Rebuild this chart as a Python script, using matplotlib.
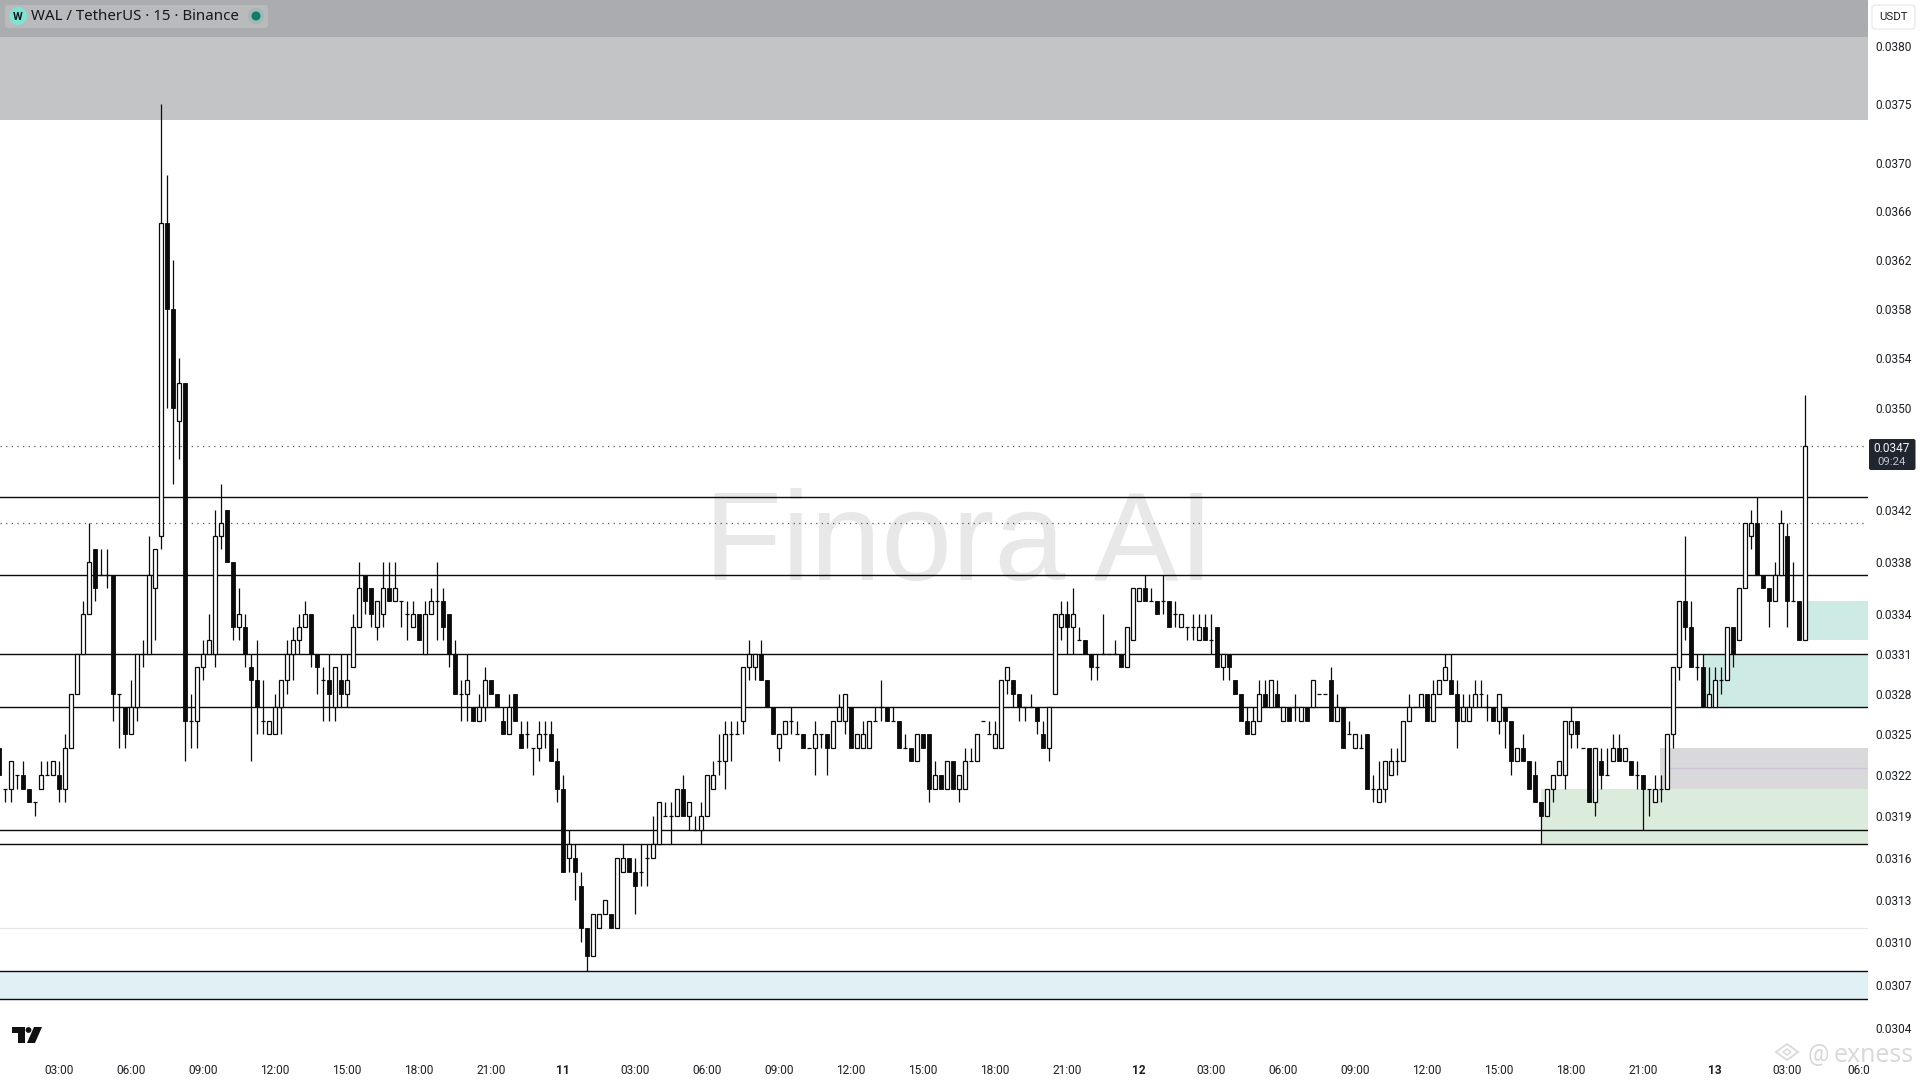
import numpy as np
import matplotlib
matplotlib.use("Agg")
import matplotlib.pyplot as plt
from matplotlib.patches import Circle, FancyBboxPatch, Polygon

plt.rcParams['font.family'] = ['Roboto', 'DejaVu Sans']

# candles in price ticks (1 tick = 0.0001 USDT), ten per row
opens = [
    324, 321, 321, 322, 322, 321, 320, 321, 322, 322,
    322, 321, 324, 328, 331, 334, 339, 337, 337, 337,
    328, 327, 325, 327, 331, 331, 336, 340, 365, 358,
    349, 352, 326, 326, 330, 331, 331, 340, 342, 338,
    333, 333, 330, 329, 326, 325, 325, 327, 329, 331,
    332, 333, 334, 331, 329, 329, 327, 329, 328, 330,
    333, 337, 336, 333, 334, 336, 335, 335, 334, 333,
    334, 331, 334, 335, 335, 334, 331, 328, 328, 327,
    326, 327, 329, 328, 326, 325, 328, 325, 325, 324,
    324, 325, 325, 323, 321, 316, 316, 314, 311, 309,
    311, 312, 312, 311, 315, 316, 315, 315, 316, 316,
    317, 319, 319, 319, 321, 319, 318, 318, 319, 321,
    323, 323, 325, 325, 326, 330, 330, 331, 329, 327,
    324, 325, 326, 325, 325, 324, 324, 325, 325, 324,
    326, 326, 327, 324, 324, 324, 326, 327, 327, 326,
    326, 324, 324, 323, 325, 325, 321, 322, 321, 323,
    321, 321, 323, 323, 326, 325, 324, 324, 329, 329,
    328, 327, 327, 327, 325, 324, 328, 333, 334, 333,
    332, 332, 331, 330, 331, 331, 331, 331, 330, 332,
    335, 336, 335, 335, 335, 335, 334, 333, 333, 333,
    332, 333, 332, 333, 330, 331, 329, 328, 326, 325,
    326, 328, 327, 328, 326, 327, 327, 326, 327, 327,
    328, 328, 329, 326, 327, 325, 324, 324, 325, 321,
    320, 321, 322, 323, 323, 326, 327, 327, 328, 326,
    328, 329, 329, 328, 326, 326, 327, 328, 327, 327,
    326, 327, 326, 323, 324, 323, 322, 320, 319, 321,
    322, 322, 325, 326, 324, 324, 320, 323, 322, 323,
    324, 323, 323, 322, 322, 321, 320, 321, 321, 325,
    330, 335, 333, 330, 330, 327, 327, 329, 329, 333,
    332, 336, 340, 341, 337, 336, 335, 337, 340, 335,
    335, 332,
]
closes = [
    322, 321, 323, 322, 321, 320, 320, 322, 322, 323,
    321, 324, 328, 331, 334, 338, 336, 337, 337, 328,
    328, 325, 327, 331, 331, 337, 339, 365, 358, 350,
    352, 326, 326, 330, 331, 332, 340, 341, 338, 333,
    334, 331, 329, 327, 326, 326, 327, 329, 331, 332,
    333, 334, 331, 330, 329, 328, 330, 328, 329, 333,
    336, 335, 334, 335, 336, 335, 336, 335, 334, 334,
    332, 334, 335, 335, 333, 331, 328, 328, 329, 326,
    327, 329, 328, 327, 325, 327, 326, 324, 325, 324,
    325, 325, 323, 321, 315, 317, 315, 311, 309, 312,
    312, 313, 311, 316, 316, 315, 314, 315, 316, 317,
    320, 319, 319, 321, 319, 320, 318, 319, 322, 322,
    323, 325, 325, 325, 330, 331, 331, 329, 327, 325,
    325, 326, 326, 325, 324, 324, 325, 325, 324, 326,
    327, 328, 324, 325, 325, 326, 326, 327, 326, 326,
    324, 324, 323, 325, 324, 321, 322, 321, 323, 321,
    322, 323, 323, 325, 326, 325, 325, 329, 330, 328,
    327, 327, 327, 326, 324, 327, 334, 334, 333, 334,
    332, 331, 330, 330, 331, 331, 331, 330, 333, 336,
    336, 335, 335, 334, 335, 333, 334, 334, 333, 333,
    333, 332, 332, 330, 331, 330, 328, 326, 325, 326,
    328, 327, 329, 327, 327, 326, 327, 327, 326, 329,
    328, 328, 326, 327, 324, 325, 325, 324, 321, 321,
    321, 323, 323, 323, 326, 327, 327, 328, 326, 328,
    329, 330, 328, 326, 327, 327, 328, 328, 327, 326,
    328, 326, 323, 324, 323, 321, 320, 319, 321, 322,
    323, 326, 326, 325, 324, 320, 324, 322, 322, 324,
    323, 324, 322, 322, 321, 321, 321, 321, 325, 330,
    335, 333, 330, 330, 327, 328, 329, 329, 333, 331,
    336, 341, 341, 337, 336, 335, 337, 341, 335, 335,
    332, 347,
]
highs = [
    324, 321, 323, 322, 323, 321, 320, 323, 323, 323,
    323, 325, 328, 331, 335, 341, 339, 339, 339, 337,
    328, 327, 329, 331, 332, 340, 339, 375, 369, 362,
    354, 352, 328, 330, 332, 334, 342, 344, 342, 338,
    336, 334, 331, 332, 329, 326, 328, 329, 332, 333,
    334, 335, 334, 331, 330, 331, 330, 331, 331, 334,
    338, 337, 336, 335, 338, 338, 338, 335, 335, 335,
    334, 335, 336, 338, 336, 334, 332, 329, 331, 327,
    328, 330, 329, 328, 327, 328, 328, 326, 326, 324,
    326, 326, 326, 324, 322, 318, 317, 315, 311, 312,
    312, 313, 312, 316, 317, 316, 316, 317, 317, 319,
    320, 320, 320, 321, 322, 320, 319, 320, 322, 323,
    325, 326, 326, 326, 330, 332, 331, 332, 329, 327,
    325, 326, 327, 326, 325, 324, 326, 325, 325, 326,
    328, 328, 327, 325, 326, 326, 327, 329, 327, 327,
    326, 325, 324, 325, 325, 325, 323, 322, 323, 323,
    322, 324, 324, 325, 326, 326, 326, 329, 330, 329,
    328, 327, 328, 327, 326, 327, 334, 335, 335, 336,
    333, 332, 331, 331, 334, 331, 332, 331, 333, 336,
    336, 337, 336, 335, 337, 335, 335, 334, 333, 334,
    334, 334, 334, 333, 331, 331, 329, 328, 327, 327,
    329, 329, 329, 329, 327, 327, 328, 327, 327, 329,
    328, 328, 330, 328, 327, 326, 325, 325, 325, 322,
    323, 323, 324, 324, 326, 328, 327, 328, 328, 329,
    329, 331, 331, 329, 328, 328, 329, 329, 328, 327,
    328, 327, 326, 324, 325, 323, 323, 320, 321, 322,
    323, 326, 327, 326, 324, 324, 324, 324, 324, 325,
    325, 324, 323, 323, 322, 321, 322, 322, 325, 330,
    335, 340, 335, 331, 331, 330, 330, 330, 333, 333,
    336, 341, 342, 343, 337, 336, 338, 342, 341, 338,
    335, 351,
]
lows = [
    322, 320, 320, 321, 321, 320, 319, 321, 322, 322,
    320, 320, 324, 328, 331, 334, 335, 337, 336, 326,
    324, 324, 325, 326, 330, 331, 332, 339, 350, 344,
    346, 323, 324, 324, 329, 331, 330, 339, 338, 332,
    332, 330, 323, 325, 325, 325, 325, 325, 328, 329,
    331, 333, 330, 328, 326, 326, 326, 327, 327, 330,
    333, 334, 333, 332, 333, 335, 335, 333, 332, 333,
    332, 331, 334, 332, 332, 330, 328, 326, 326, 326,
    326, 326, 328, 327, 325, 325, 326, 324, 324, 322,
    323, 324, 323, 320, 315, 315, 313, 310, 308, 309,
    311, 312, 311, 311, 315, 315, 312, 314, 314, 316,
    317, 319, 317, 319, 319, 318, 318, 317, 319, 321,
    322, 321, 323, 325, 325, 329, 329, 329, 327, 325,
    323, 325, 325, 325, 324, 324, 322, 324, 322, 324,
    326, 325, 324, 324, 324, 324, 326, 326, 326, 326,
    324, 324, 323, 323, 324, 320, 321, 321, 321, 321,
    320, 321, 323, 323, 326, 325, 324, 324, 328, 327,
    326, 326, 327, 325, 324, 323, 328, 332, 331, 331,
    332, 331, 329, 329, 331, 331, 331, 330, 330, 332,
    335, 335, 335, 334, 334, 333, 333, 333, 332, 332,
    332, 332, 331, 330, 329, 329, 328, 326, 325, 325,
    326, 327, 327, 327, 326, 326, 326, 326, 326, 327,
    328, 328, 326, 326, 324, 325, 324, 324, 321, 320,
    320, 320, 322, 322, 323, 326, 327, 327, 326, 326,
    328, 329, 328, 324, 326, 326, 327, 327, 326, 326,
    325, 324, 322, 323, 323, 321, 320, 317, 319, 320,
    322, 321, 324, 324, 324, 320, 319, 321, 322, 323,
    323, 323, 322, 321, 318, 319, 320, 320, 321, 324,
    329, 332, 330, 329, 327, 327, 327, 328, 329, 330,
    332, 336, 339, 337, 336, 333, 335, 337, 333, 335,
    332, 332,
]
assert len(opens) == len(closes) == len(highs) == len(lows)

# price axis
price_ticks = [0.0380, 0.0375, 0.0370, 0.0366, 0.0362, 0.0358, 0.0354, 0.0350,
               0.0342, 0.0338, 0.0334, 0.0331, 0.0328, 0.0325, 0.0322, 0.0319,
               0.0316, 0.0313, 0.0310, 0.0307, 0.0304]
# time axis, one label every 12 candles
time_labels = ["03:00", "06:00", "09:00", "12:00", "15:00", "18:00", "21:00", "11",
               "03:00", "06:00", "09:00", "12:00", "15:00", "18:00", "21:00", "12",
               "03:00", "06:00", "09:00", "12:00", "15:00", "18:00", "21:00", "13",
               "03:00", "06:0"]
first_label_candle = 10
labels_every = 12

# drawn levels
solid_levels = [0.0343, 0.0337, 0.0331, 0.0327, 0.0318, 0.0317, 0.0308, 0.03060]
dotted_levels = [0.0347, 0.0341]
faint_level = 0.0311
last_price = "0.0347"
countdown = "09:24"

BLACK = "#0b0b0b"
W, H = 1920, 1080
PLOT_RIGHT = 1868
PLOT_BOTTOM = 1050
PX_PER_CANDLE = 6
X_SHIFT = 0.15

fig = plt.figure(figsize=(19.2, 10.8), dpi=100, facecolor="white")
ax = fig.add_axes([0, (H - PLOT_BOTTOM) / H, PLOT_RIGHT / W, PLOT_BOTTOM / H])
ax.set_yscale("log")
ax.set_ylim(0.03025, 0.0384)
right = PLOT_RIGHT / PX_PER_CANDLE + X_SHIFT
ax.set_xlim(X_SHIFT, right)
for s in ax.spines.values():
    s.set_visible(False)

# zones
ax.axhspan(0.03808, 0.0384, color="#abacaf", lw=0, zorder=1)
ax.axhspan(0.03737, 0.03808, color="#c3c4c6", lw=0, zorder=1)
ax.axhspan(0.03060, 0.0308, color="#e0f0f4", lw=0, zorder=1)
ax.fill_between([257, right], 0.0317, 0.0321, color="#dbecdc", lw=0, zorder=1)
ax.fill_between([276.8, right], 0.0321, 0.0324, color="#d9d9dc", lw=0, zorder=1)
ax.fill_between([284, right], 0.0327, 0.0331, color="#cdeae4", lw=0, zorder=1)
ax.fill_between([301, right], 0.0332, 0.0335, color="#cdeae4", lw=0, zorder=1)
ax.plot([278.5, right], [0.03225, 0.03225], color="#cfc3d8", lw=1, zorder=1.5)

# watermark sits under everything
ax.text(783 * 1.2245 / PLOT_RIGHT, 1 - 547 / PLOT_BOTTOM, "Finora AI", transform=ax.transAxes,
        family="Liberation Sans", fontsize=91.7, color="#e8e8e9", ha="center", va="center", zorder=0.5)

# levels
for lvl in solid_levels:
    ax.axhline(lvl, color=BLACK, lw=1.0, zorder=2)
for lvl in dotted_levels:
    ax.axhline(lvl, color="#555555", lw=0.9, ls=(0, (1, 3.5)), zorder=2)
ax.axhline(faint_level, color="#e6e8e6", lw=0.9, zorder=2)

# candles
x = np.arange(len(opens))
o = np.array(opens) / 10000
c = np.array(closes) / 10000
h = np.array(highs) / 10000
l = np.array(lows) / 10000
up = c > o
down = c < o
doji = c == o
ax.vlines(x, l, h, color=BLACK, lw=0.9, zorder=3)
ax.bar(x[up], (c - o)[up], bottom=o[up], width=0.68, facecolor="white",
       edgecolor=BLACK, lw=0.9, zorder=4)
ax.bar(x[down], (o - c)[down], bottom=c[down], width=0.72, facecolor=BLACK,
       edgecolor=BLACK, lw=0.6, zorder=4)
ax.hlines(o[doji], x[doji] - 0.38, x[doji] + 0.38, color=BLACK, lw=0.9, zorder=4)

# axes labels
ax.yaxis.tick_right()
ax.set_yticks(price_ticks)
ax.set_yticklabels([f"{p:.4f}" for p in price_ticks])
ax.minorticks_off()
ax.tick_params(axis="y", length=0, pad=5.5, labelsize=8.6, labelcolor="#1c1f26")
ax.set_xticks([first_label_candle + labels_every * k for k in range(len(time_labels))])
ax.set_xticklabels(time_labels)
ax.tick_params(axis="x", length=0, pad=10, labelsize=8.6, labelcolor="#1c1f26")
for lab in ax.get_xticklabels():
    if lab.get_text() in ("11", "12", "13"):
        lab.set_fontweight("bold")

# overlay in pixel coordinates for the widgets of the chart window
ui = fig.add_axes([0, 0, 1, 1], zorder=10)
ui.set_xlim(0, W)
ui.set_ylim(H, 0)
ui.axis("off")

# title pill
ui.add_patch(FancyBboxPatch((5, 5), 263, 23, boxstyle="round,pad=0,rounding_size=3",
                            fc="#b9babc", ec="none"))
ui.add_patch(Circle((18, 16), 9, fc="#7fe3d2", ec="none"))
ui.text(18, 16.5, "W", fontsize=8, fontweight="bold", color="#10151c", ha="center", va="center")
ui.text(31, 16, "WAL / TetherUS · 15 · Binance", fontsize=10.8, color="#14171d", ha="left", va="center",
        family="Noto Sans")
ui.add_patch(Circle((256, 16), 8, fc="#a2b9b5", ec="none"))
ui.add_patch(Circle((256, 16), 4.5, fc="#0e7c66", ec="none"))

# USDT box
ui.add_patch(FancyBboxPatch((1872, 5), 43, 24, boxstyle="round,pad=0,rounding_size=3",
                            fc="white", ec="#e6e6e8", lw=0.8))
ui.text(1893, 17, "USDT", fontsize=8.2, color="#1c1f26", ha="center", va="center")

# last price badge
ui.add_patch(FancyBboxPatch((1869, 439), 46.5, 31, boxstyle="round,pad=0,rounding_size=2",
                            fc="#20252e", ec="none"))
ui.text(1892, 448, last_price, fontsize=8.6, color="#f4f4f5", ha="center", va="center")
ui.text(1892, 462, countdown, fontsize=8.2, color="#c2c4c8", ha="center", va="center")

# TradingView mark
ui.add_patch(Polygon([(12, 1027), (25, 1027), (25, 1043), (18, 1043), (18, 1033), (12, 1033)],
                     fc="#111111", ec="none"))
ui.add_patch(Circle((28.5, 1030), 2.9, fc="#111111", ec="none"))
ui.add_patch(Polygon([(34, 1027), (42, 1027), (35, 1043), (27, 1043)], fc="#111111", ec="none"))

# exness stamp
ui.add_patch(Polygon([(1787, 1044), (1798, 1052), (1787, 1060), (1776, 1052)], fc="none", ec="#dcdcdc", lw=1.4))
ui.add_patch(Polygon([(1787, 1049), (1791, 1052), (1787, 1055), (1783, 1052)], fc="none", ec="#dcdcdc", lw=1.2))
ui.text(1818, 1055, "@", fontsize=17, color="#d8d8d8", ha="center", va="center")
ui.text(1874, 1055, "exness", fontsize=18, color="#d8d8d8", ha="center", va="center", family="Open Sans")

fig.savefig("out.png", dpi=100)
